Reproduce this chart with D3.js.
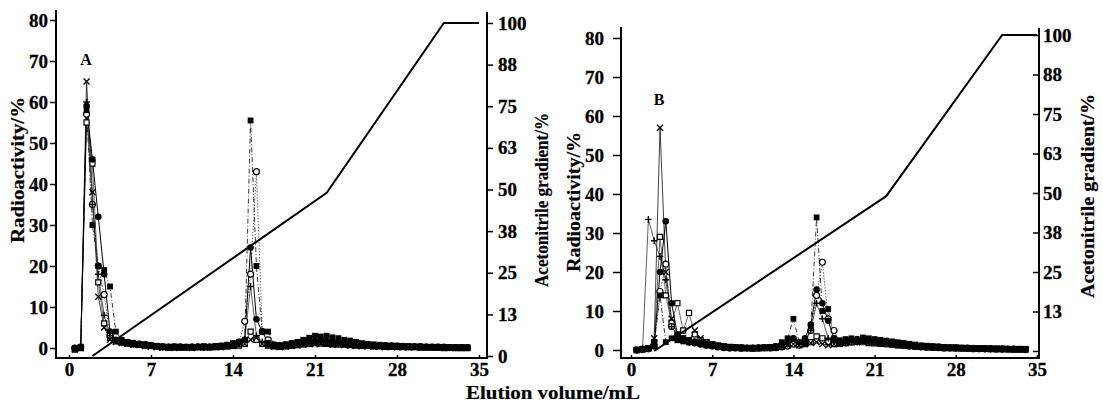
<!DOCTYPE html>
<html>
<head>
<meta charset="utf-8">
<script src="https://cdn.jsdelivr.net/npm/d3@7"></script>
<style>
  body { margin: 0; background: #fff; }
  svg { display: block; }
  text { font-family: "Liberation Serif", "Times New Roman", serif; font-weight: bold; fill: #000; }
  .tick text { font-size: 19px; stroke: #000; stroke-width: 0.3; }
  .tick line { stroke: #000; stroke-width: 1.5; }
  .frame { stroke: #000; stroke-width: 2; }
  .title { font-size: 18px; stroke: #000; stroke-width: 0.2; }
  .gradient { fill: none; stroke: #000; stroke-width: 2; }
  .trace { fill: none; }
</style>
</head>
<body>
<div id="chart"></div>
<script>
// elution volume of each fraction (mL)
var volumes = [0.5, 1, 1.5, 2, 2.5, 3, 3.5, 4, 4.5, 5,
  5.5, 6, 6.5, 7, 7.5, 8, 8.5, 9, 9.5, 10,
  10.5, 11, 11.5, 12, 12.5, 13, 13.5, 14, 14.5, 15,
  15.5, 16, 16.5, 17, 17.5, 18, 18.5, 19, 19.5, 20,
  20.5, 21, 21.5, 22, 22.5, 23, 23.5, 24, 24.5, 25,
  25.5, 26, 26.5, 27, 27.5, 28, 28.5, 29, 29.5, 30,
  30.5, 31, 31.5, 32, 32.5, 33, 33.5, 34];

var volumeTicks = [0, 7, 14, 21, 28, 35];
var radioTicks = [0, 10, 20, 30, 40, 50, 60, 70, 80];
var gradientTicks = [0, 12.5, 25, 37.5, 50, 62.5, 75, 87.5, 100];

// acetonitrile gradient program
var gradientVolume = [2, 22, 32, 35];
var gradientPercent = [0, 49, 100, 100];

// panel A, radioactivity (%)
var aCross = [-0.3, 0, 65, 38, 12.5, 5, 2, 1.5, 1.2, 1,
  0.8, 0.7, 0.5, 0.3, 0.2, 0.1, 0.2, 0, 0.1, 0.2,
  0, 0.1, 0.2, 0.1, 0.3, 0.2, 0.4, 0.5, 0.8, 1,
  2, 2.5, 1, 0.6, 0.3, 0.2, 0.3, 0.5, 0.6, 0.8,
  1, 0.9, 1.1, 1, 0.8, 0.9, 0.7, 0.6, 0.5, 0.4,
  0.4, 0.3, 0.3, 0.2, 0.3, 0.2, 0.2, 0.1, 0.2, 0.1,
  0.1, 0.2, 0.1, 0.1, 0, 0.1, 0, 0.1];
var aPlus = [0, 0.2, 60, 35, 18, 8, 3, 1.8, 1.5, 1.2,
  1, 0.8, 0.6, 0.5, 0.3, 0.2, 0.3, 0.2, 0.1, 0.2,
  0.3, 0.2, 0.1, 0.2, 0.3, 0.4, 0.6, 0.8, 1.2, 2,
  15, 3, 1.5, 0.8, 0.5, 0.4, 0.5, 0.6, 0.8, 1,
  1.2, 1.4, 1.5, 1.3, 1.2, 1.1, 1, 0.9, 0.8, 0.7,
  0.6, 0.6, 0.5, 0.5, 0.4, 0.4, 0.3, 0.3, 0.3, 0.2,
  0.2, 0.2, 0.2, 0.1, 0.1, 0.1, 0.1, 0.1];
var aDot = [-0.2, 0.1, 59, 46, 32, 18, 4, 2, 1.6, 1.4,
  1.2, 1, 0.8, 0.6, 0.4, 0.3, 0.2, 0.3, 0.2, 0.1,
  0.2, 0.3, 0.2, 0.3, 0.4, 0.5, 0.7, 1, 1.5, 2,
  24.5, 7, 4, 1.2, 0.6, 0.5, 0.6, 0.8, 1, 1.3,
  1.5, 1.6, 1.8, 1.7, 1.5, 1.4, 1.2, 1, 0.9, 0.8,
  0.7, 0.6, 0.6, 0.5, 0.5, 0.4, 0.4, 0.4, 0.3, 0.3,
  0.3, 0.2, 0.2, 0.2, 0.2, 0.1, 0.1, 0.1];
var aSquare = [0, 0.3, 58, 30, 20, 19, 15, 4, 2, 1.5,
  1.2, 1, 0.9, 0.7, 0.5, 0.4, 0.3, 0.4, 0.3, 0.2,
  0.3, 0.2, 0.4, 0.3, 0.5, 0.6, 0.8, 1.2, 1.5, 2,
  55.5, 20, 4, 4, 0.8, 0.7, 0.9, 1.2, 1.5, 2,
  2.5, 3, 2.8, 3, 2.6, 2.4, 2, 1.8, 1.5, 1.2,
  1, 0.9, 0.8, 0.7, 0.6, 0.6, 0.5, 0.5, 0.4, 0.4,
  0.3, 0.3, 0.3, 0.2, 0.2, 0.2, 0.2, 0.1];
var aRing = [0, 0.2, 57, 35, 20, 13, 3, 1.8, 1.5, 1.3,
  1.1, 0.9, 0.8, 0.6, 0.4, 0.3, 0.2, 0.2, 0.3, 0.2,
  0.2, 0.3, 0.2, 0.2, 0.3, 0.4, 0.5, 0.7, 1, 6.5,
  18, 43, 4, 2, 0.8, 0.6, 0.8, 1, 1.2, 1.6,
  1.8, 1.6, 1.5, 1.4, 1.3, 1.2, 1.1, 1, 0.9, 0.8,
  0.7, 0.6, 0.6, 0.5, 0.5, 0.4, 0.4, 0.3, 0.3, 0.3,
  0.2, 0.2, 0.2, 0.2, 0.1, 0.1, 0.1, 0.1];
var aBox = [-0.4, 0, 55, 45, 16, 6, 2.5, 1.6, 1.3, 1.1,
  0.9, 0.8, 0.6, 0.5, 0.3, 0.2, 0.1, 0.2, 0.1, 0.2,
  0.1, 0.2, 0.3, 0.2, 0.2, 0.3, 0.4, 0.5, 0.6, 1,
  4, 2, 1, 0.6, 0.4, 0.3, 0.4, 0.5, 0.7, 0.9,
  1, 1.2, 1.1, 1, 0.9, 0.8, 0.8, 0.7, 0.6, 0.5,
  0.5, 0.4, 0.4, 0.3, 0.3, 0.3, 0.2, 0.2, 0.2, 0.1,
  0.1, 0.1, 0.1, 0, 0.1, 0, 0, 0];

// panel B, radioactivity (%)
var bCross = [0, 0.2, 0.5, 3, 57, 20, 8, 4, 3, 2.5,
  5, 3, 2, 1.5, 1, 0.8, 0.7, 0.6, 0.5, 0.5,
  0.4, 0.5, 0.6, 0.5, 0.7, 0.9, 1.2, 1.5, 1.2, 1.5,
  1.8, 2, 1.5, 1.2, 1.5, 1.8, 2, 2.2, 2, 2.3,
  2.2, 2, 1.8, 1.7, 1.5, 1.4, 1.2, 1.1, 1, 0.9,
  0.8, 0.8, 0.7, 0.6, 0.6, 0.5, 0.5, 0.4, 0.4, 0.4,
  0.3, 0.3, 0.3, 0.3, 0.2, 0.2, 0.2, 0.2];
var bPlus = [0, 0.5, 33.5, 28, 24, 18, 6, 4, 3, 2.5,
  2, 1.8, 1.5, 1.2, 1, 0.8, 0.7, 0.6, 0.5, 0.5,
  0.5, 0.6, 0.5, 0.6, 0.8, 1, 1.5, 3, 1.5, 2,
  5, 12, 8, 3, 2, 1.8, 2, 2.2, 2, 2.4,
  2.2, 2, 1.9, 1.7, 1.5, 1.4, 1.2, 1.1, 1, 0.9,
  0.8, 0.7, 0.7, 0.6, 0.6, 0.5, 0.5, 0.4, 0.4, 0.4,
  0.3, 0.3, 0.3, 0.2, 0.2, 0.2, 0.2, 0.2];
var bDot = [0, 0.2, 0.4, 1, 20, 33, 12, 4, 3, 2.5,
  2.2, 1.8, 1.5, 1.2, 1, 0.8, 0.7, 0.6, 0.6, 0.5,
  0.5, 0.6, 0.5, 0.7, 0.8, 1.2, 1.8, 3, 2, 3,
  6.5, 15.5, 12, 7.5, 3, 2, 2.2, 2.5, 2.8, 2.6,
  2.5, 2.4, 2.2, 2, 1.8, 1.6, 1.4, 1.2, 1.1, 1,
  0.9, 0.8, 0.8, 0.7, 0.6, 0.6, 0.5, 0.5, 0.5, 0.4,
  0.4, 0.4, 0.3, 0.3, 0.3, 0.3, 0.2, 0.2];
var bSquare = [0, 0.3, 0.5, 2, 14, 2, 3, 2.5, 2.2, 2,
  1.8, 1.5, 1.2, 1, 0.8, 0.7, 0.6, 0.5, 0.6, 0.5,
  0.6, 0.5, 0.7, 0.8, 1, 2, 3, 8, 2, 1.5,
  6, 34, 10, 10.5, 3, 2.5, 2.8, 3, 2.6, 3.2,
  3, 2.8, 2.6, 2.4, 2.2, 2, 1.8, 1.6, 1.4, 1.2,
  1.1, 1, 0.9, 0.8, 0.7, 0.7, 0.6, 0.6, 0.5, 0.5,
  0.5, 0.4, 0.4, 0.4, 0.3, 0.3, 0.3, 0.3];
var bRing = [0, 0.1, 0.3, 1, 15, 22, 6, 3, 2.5, 2,
  1.8, 1.5, 1.2, 1, 0.8, 0.6, 0.5, 0.5, 0.4, 0.5,
  0.4, 0.5, 0.6, 0.5, 0.6, 0.8, 1, 1.5, 1.2, 2,
  5, 14, 22.5, 8, 5, 2, 1.8, 2, 2.2, 2.4,
  2.2, 2, 1.8, 1.6, 1.5, 1.3, 1.2, 1, 0.9, 0.8,
  0.7, 0.7, 0.6, 0.5, 0.5, 0.5, 0.4, 0.4, 0.3, 0.3,
  0.3, 0.3, 0.2, 0.2, 0.2, 0.2, 0.2, 0.1];
var bBox = [0, 0.2, 0.4, 2, 29, 14, 7, 12, 5, 9.5,
  4, 2.5, 2, 1.5, 1.2, 1, 0.8, 0.7, 0.6, 0.5,
  0.5, 0.4, 0.5, 0.6, 0.7, 0.9, 1.2, 1.8, 1.5, 1.5,
  2, 3.5, 3, 2, 1.5, 1.6, 1.8, 2, 2.2, 2,
  1.8, 1.7, 1.6, 1.5, 1.4, 1.2, 1.1, 1, 0.9, 0.8,
  0.7, 0.6, 0.6, 0.5, 0.5, 0.4, 0.4, 0.4, 0.3, 0.3,
  0.3, 0.2, 0.2, 0.2, 0.2, 0.1, 0.1, 0.1];

// stroke-only marker shapes, size = half width
var symbolTimes = { draw: function(c, s) { c.moveTo(-s, -s); c.lineTo(s, s); c.moveTo(-s, s); c.lineTo(s, -s); } };
var symbolPlus = { draw: function(c, s) { c.moveTo(-s, 0); c.lineTo(s, 0); c.moveTo(0, -s); c.lineTo(0, s); } };

var markers = {
  cross:  { type: symbolTimes, size: 3, fill: "none", stroke: "#000", sw: 1.3, line: "#111", lw: 0.8, dash: null },
  plus:   { type: symbolPlus, size: 3.3, fill: "none", stroke: "#000", sw: 1.4, line: "#333", lw: 0.8, dash: null },
  dot:    { type: d3.symbolCircle, size: 34, fill: "#000", stroke: "none", sw: 0, line: "#000", lw: 1, dash: null },
  square: { type: d3.symbolSquare, size: 34, fill: "#000", stroke: "none", sw: 0, line: "#222", lw: 0.9, dash: "5,2,1,2" },
  ring:   { type: d3.symbolCircle, size: 28, fill: "#fff", stroke: "#000", sw: 1.2, line: "#555", lw: 0.9, dash: "1.5,1.5" },
  box:    { type: d3.symbolSquare, size: 26, fill: "#fff", stroke: "#000", sw: 1.2, line: "#444", lw: 0.8, dash: null }
};

var panels = [
  { label: "A", labelPos: [86, 65],
    box: { left: 56, right: 487, bottom: 358, leftTop: 10, rightTop: 12 },
    xRange: [69, 479], leftRange: [348, 20], rightRange: [356, 23],
    leftTickSize: 6, leftPad: 2, rightTickSize: 6, rightPad: 5, rightZero: true,
    leftTitle: [24, 170, 146], rightTitle: [548, 200, 174],
    series: { box: aBox, ring: aRing, plus: aPlus, cross: aCross, square: aSquare, dot: aDot } },
  { label: "B", labelPos: [659, 105],
    box: { left: 621, right: 1039, bottom: 358, leftTop: 27, rightTop: 28 },
    xRange: [631, 1037], leftRange: [350, 38], rightRange: [351, 35],
    leftTickSize: 8, leftPad: 9, rightTickSize: -6, rightPad: 4, rightZero: false,
    leftTitle: [580, 202, 140], rightTitle: [1094, 196, 204],
    series: { box: bBox, ring: bRing, plus: bPlus, cross: bCross, square: bSquare, dot: bDot } }
];

var svg = d3.select("#chart").append("svg")
  .attr("width", 1103)
  .attr("height", 403);

panels.forEach(function(p) {
  var x = d3.scaleLinear().domain([0, 35]).range(p.xRange);
  var yLeft = d3.scaleLinear().domain([0, 80]).range(p.leftRange);
  var yRight = d3.scaleLinear().domain([0, 100]).range(p.rightRange);
  var g = svg.append("g");

  // axes
  var bottomAxis = d3.axisBottom(x).tickValues(volumeTicks).tickSize(-3).tickPadding(5).tickSizeOuter(0);
  g.append("g").attr("transform", "translate(0," + p.box.bottom + ")").call(bottomAxis);

  var leftAxis = d3.axisLeft(yLeft).tickValues(radioTicks).tickSize(p.leftTickSize).tickPadding(p.leftPad).tickSizeOuter(0);
  g.append("g").attr("transform", "translate(" + p.box.left + ",0)").call(leftAxis);

  var rightAxis = d3.axisRight(yRight).tickValues(gradientTicks).tickSize(p.rightTickSize).tickPadding(p.rightPad).tickSizeOuter(0)
    .tickFormat(function(d) { return (d === 0 && !p.rightZero) ? "" : Math.round(d); });
  g.append("g").attr("transform", "translate(" + p.box.right + ",0)").call(rightAxis);

  g.selectAll(".domain").remove();

  // frame
  g.append("line").attr("class", "frame")
    .attr("x1", p.box.left).attr("y1", p.box.leftTop).attr("x2", p.box.left).attr("y2", p.box.bottom + 1);
  g.append("line").attr("class", "frame")
    .attr("x1", p.box.left).attr("y1", p.box.bottom).attr("x2", p.box.right).attr("y2", p.box.bottom);
  g.append("line").attr("class", "frame")
    .attr("x1", p.box.right).attr("y1", p.box.rightTop).attr("x2", p.box.right).attr("y2", p.box.bottom + 1);

  // radioactivity traces
  var line = d3.line()
    .x(function(d, i) { return x(volumes[i]); })
    .y(function(d) { return yLeft(d); });

  Object.keys(p.series).forEach(function(key) {
    var m = markers[key];
    g.append("path").attr("class", "trace")
      .attr("d", line(p.series[key]))
      .attr("stroke", m.line)
      .attr("stroke-width", m.lw)
      .attr("stroke-dasharray", m.dash);
  });

  Object.keys(p.series).forEach(function(key) {
    var m = markers[key];
    var sym = d3.symbol().type(m.type).size(m.size);
    g.append("g").selectAll("path")
      .data(p.series[key])
      .enter().append("path")
      .attr("transform", function(d, i) { return "translate(" + x(volumes[i]) + "," + yLeft(d) + ")"; })
      .attr("d", sym)
      .attr("fill", m.fill)
      .attr("stroke", m.stroke)
      .attr("stroke-width", m.sw);
  });

  // gradient
  var gradLine = d3.line()
    .x(function(d, i) { return x(gradientVolume[i]); })
    .y(function(d) { return yRight(d); });
  g.append("path").attr("class", "gradient").attr("d", gradLine(gradientPercent));

  // titles
  g.append("text").attr("class", "title")
    .attr("transform", "translate(" + p.leftTitle[0] + "," + p.leftTitle[1] + ") rotate(-90)")
    .attr("text-anchor", "middle")
    .attr("textLength", p.leftTitle[2]).attr("lengthAdjust", "spacingAndGlyphs")
    .text("Radioactivity/%");
  g.append("text").attr("class", "title")
    .attr("transform", "translate(" + p.rightTitle[0] + "," + p.rightTitle[1] + ") rotate(-90)")
    .attr("text-anchor", "middle")
    .attr("textLength", p.rightTitle[2]).attr("lengthAdjust", "spacingAndGlyphs")
    .text("Acetonitrile gradient/%");

  g.append("text")
    .attr("x", p.labelPos[0]).attr("y", p.labelPos[1])
    .attr("text-anchor", "middle")
    .style("font-size", "16px")
    .text(p.label);
});

svg.append("text").attr("class", "title")
  .attr("x", 553).attr("y", 399)
  .attr("text-anchor", "middle")
  .attr("textLength", 174).attr("lengthAdjust", "spacingAndGlyphs")
  .text("Elution volume/mL");
</script>
</body>
</html>
